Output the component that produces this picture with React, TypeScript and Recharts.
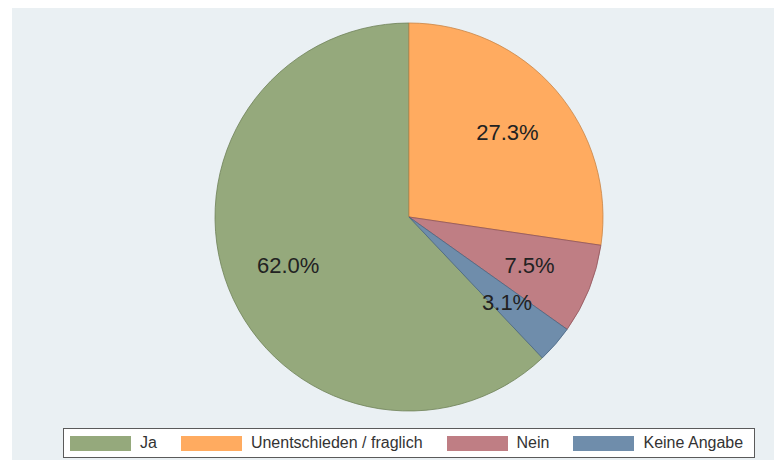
import { PieChart, Pie, Cell, Legend } from 'recharts';

const categories = ['Ja', 'Unentschieden / fraglich', 'Nein', 'Keine Angabe'];
const shares = [62.0, 27.3, 7.5, 3.1];
const fills = ['#95a97c', '#ffab60', '#bf7e84', '#6f8dab'];
const edges = ['#6f8158', '#c98444', '#91545b', '#4a6784'];

const data = categories.map((name, i) => ({ name, value: shares[i] }));

// first slice ("Ja") ends at 12 o'clock, slices run clockwise
const total = shares.reduce((a, b) => a + b, 0);
const startAngle = 90 + (360 * shares[0]) / total;

const RADIAN = Math.PI / 180;
const FONT = '"Liberation Sans", Arial, sans-serif';

const renderLabel = (props: any) => {
    const { cx, cy, midAngle, outerRadius, value } = props;
    const r = outerRadius * 0.67;
    const x = cx + r * Math.cos(-midAngle * RADIAN);
    const y = cy + r * Math.sin(-midAngle * RADIAN);
    return (
        <text x={x} y={y} textAnchor="middle" dominantBaseline="central" fill="#222" fontSize={22} fontFamily={FONT}>
            {`${Number(value).toFixed(1)}%`}
        </text>
    );
};

// legend keeps the data order (Recharts would sort it by name)
const renderLegend = () => (
    <div
        style={{
            boxSizing: 'border-box',
            width: 692,
            height: 30,
            border: '1px solid #5a5a5a',
            background: '#ffffff',
            display: 'flex',
            alignItems: 'center',
            paddingLeft: 6,
            fontFamily: FONT,
            fontSize: 16,
            color: '#333',
        }}
    >
        {categories.map((name, i) => (
            <div key={name} style={{ display: 'flex', alignItems: 'center', marginRight: 24 }}>
                <span style={{ display: 'inline-block', width: 61, height: 15, background: fills[i] }} />
                <span style={{ marginLeft: 9, whiteSpace: 'nowrap' }}>{name}</span>
            </div>
        ))}
    </div>
);

export default function App() {
    return (
        <div style={{ position: 'fixed', left: 0, top: 0, width: 774, height: 460, background: '#ffffff' }}>
            <div style={{ position: 'absolute', left: 12, top: 8, width: 762, height: 452, background: '#eaf0f3' }}>
                <PieChart width={762} height={452} margin={{ top: 0, right: 0, bottom: 0, left: 0 }}>
                    <Pie
                        data={data}
                        dataKey="value"
                        nameKey="name"
                        cx={397}
                        cy={209}
                        outerRadius={194}
                        startAngle={startAngle}
                        endAngle={startAngle - 360}
                        label={renderLabel}
                        labelLine={false}
                        legendType="rect"
                        isAnimationActive={false}
                    >
                        {data.map((d, i) => (
                            <Cell key={d.name} fill={fills[i]} stroke={edges[i]} strokeWidth={0.8} />
                        ))}
                    </Pie>
                    <Legend
                        content={renderLegend}
                        wrapperStyle={{ position: 'absolute', left: 51, top: 420, width: 692, height: 30 }}
                    />
                </PieChart>
            </div>
        </div>
    );
}
